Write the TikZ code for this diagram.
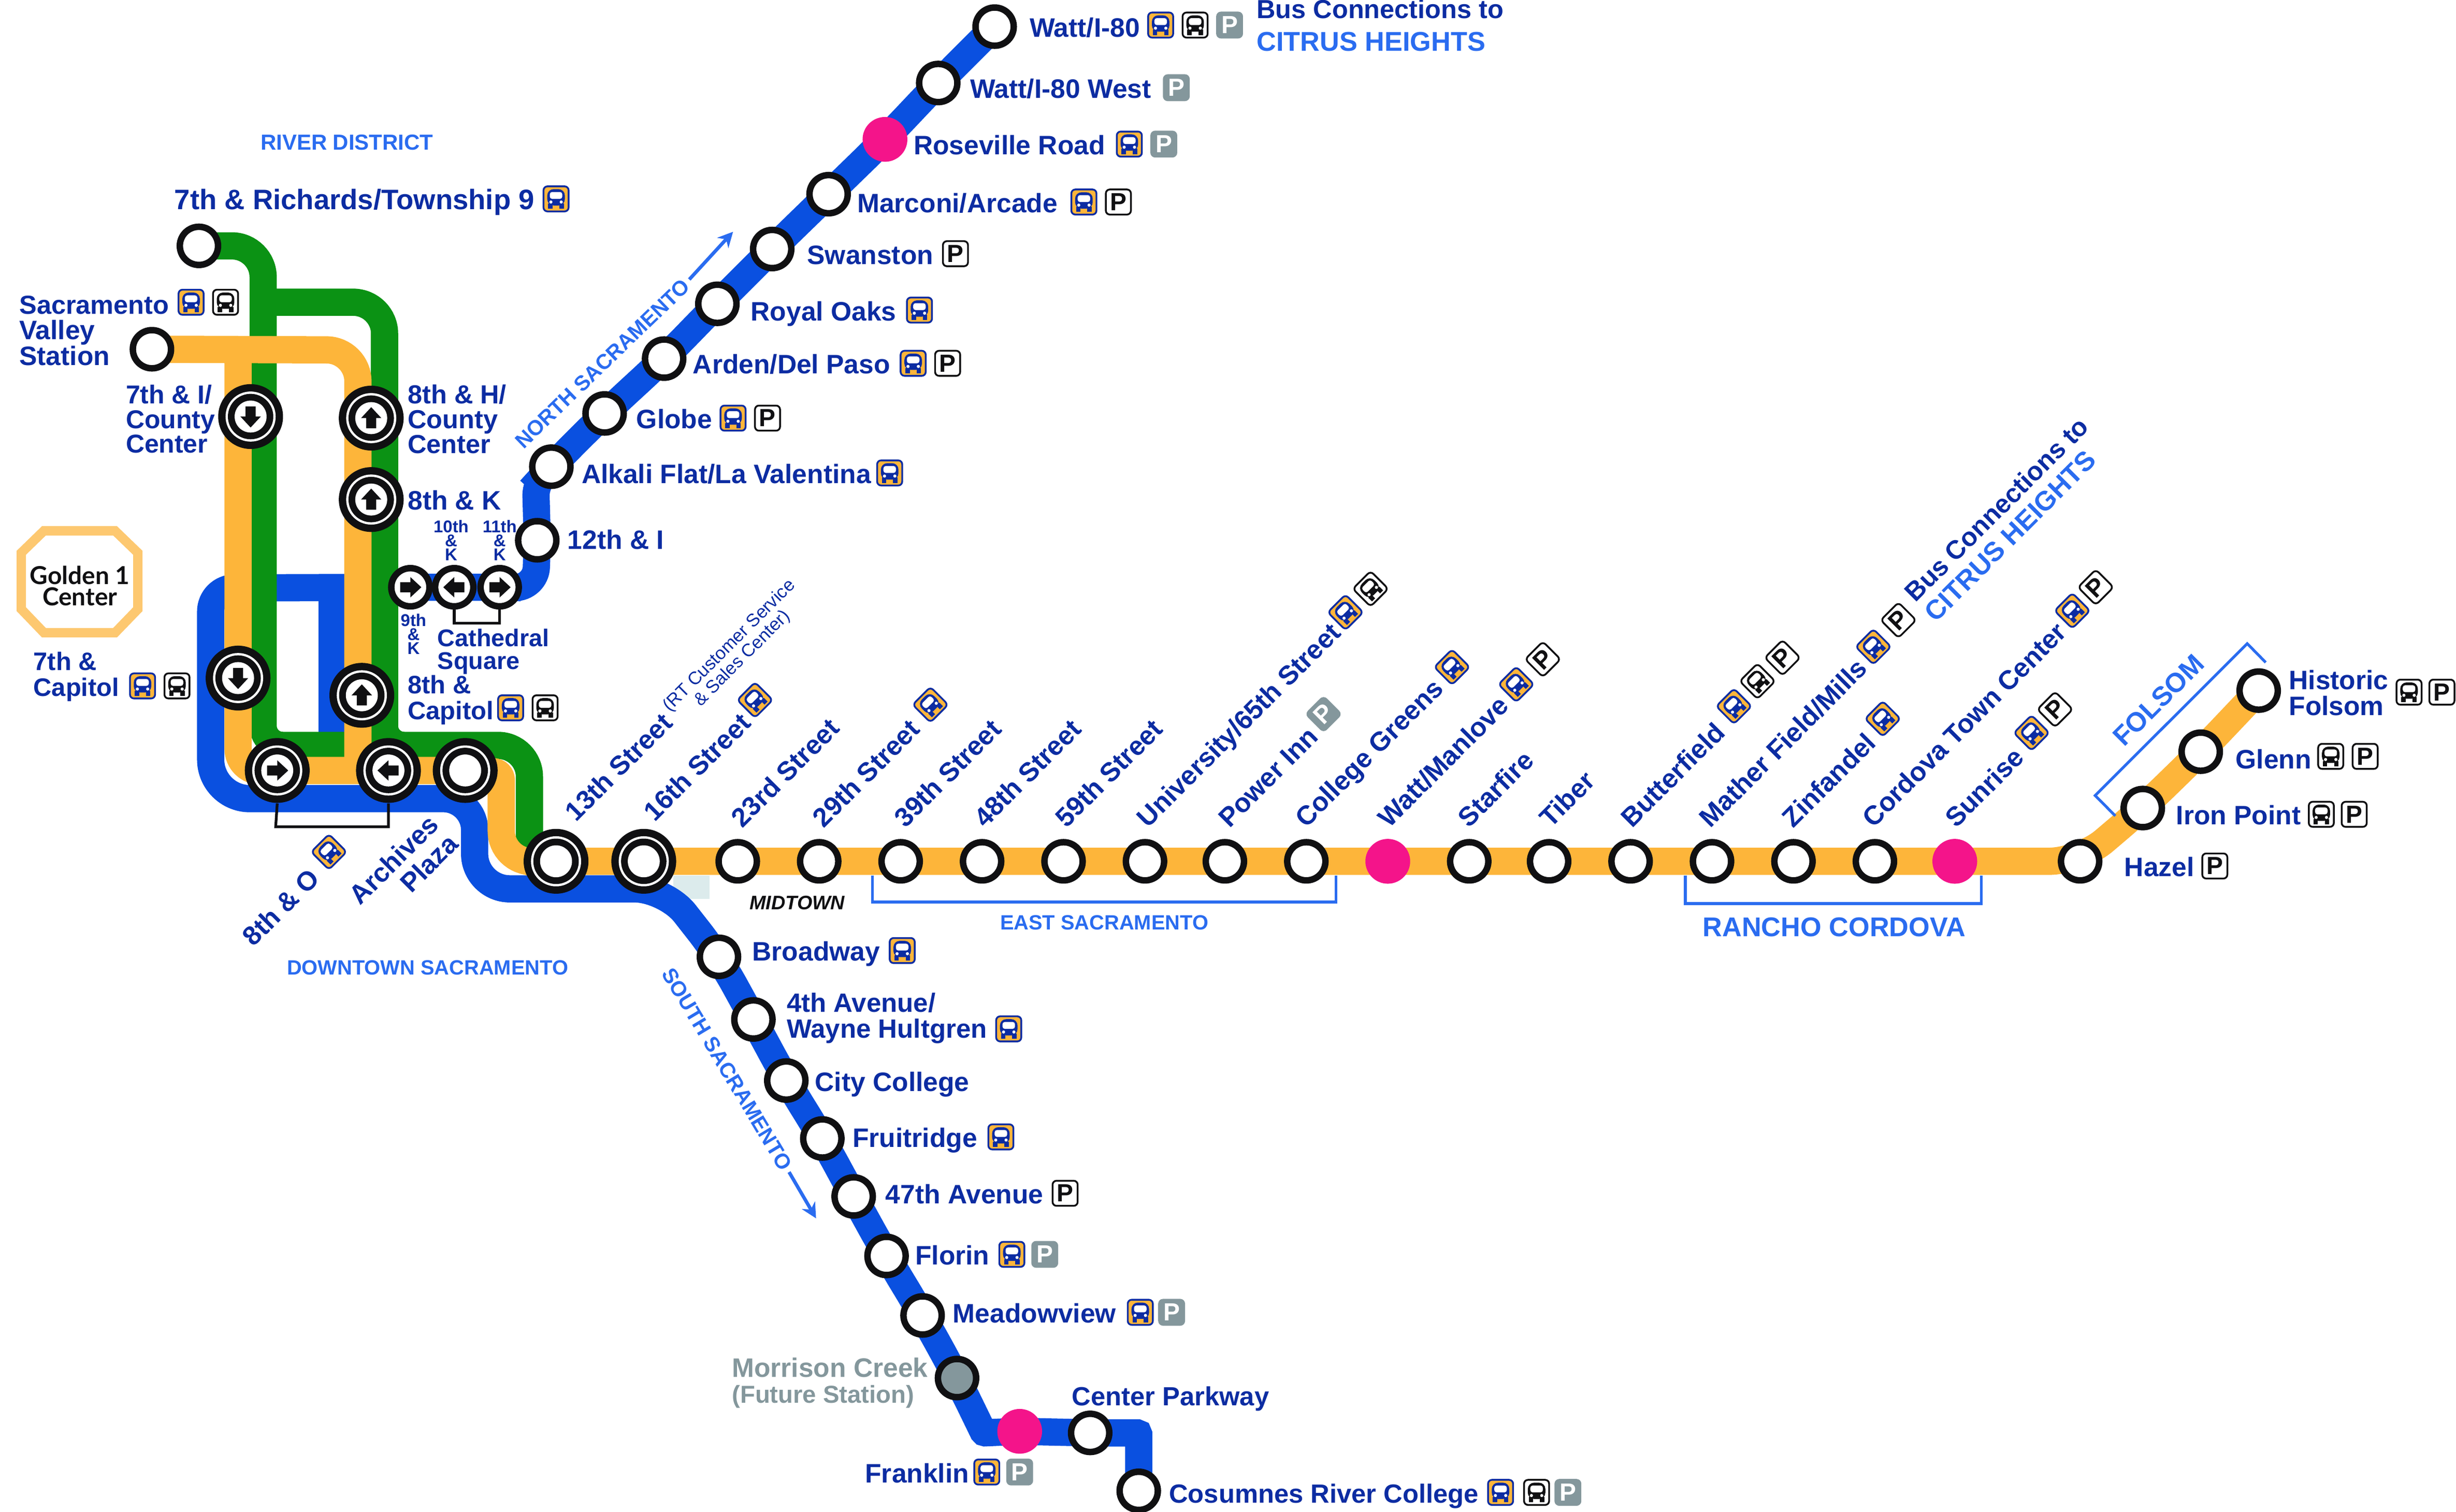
\documentclass[tikz,border=0pt]{standalone}
\usepackage{fontspec}
\setmainfont{Liberation Sans}
\newfontfamily\goldenfont{Lato}
\usetikzlibrary{backgrounds,arrows.meta}

\definecolor{rnavy}{HTML}{0C2CA2}
\definecolor{rsky}{HTML}{2A6CF0}
\definecolor{rblue}{HTML}{0A50E0}
\definecolor{rgreen}{HTML}{0B9214}
\definecolor{rorange}{HTML}{FDB53A}
\definecolor{rpink}{HTML}{F4148A}
\definecolor{rgray}{HTML}{84979C}
\definecolor{rblack}{HTML}{101012}
\definecolor{rpale}{HTML}{DCEBEC}
\definecolor{rgold}{HTML}{FDC870}

\newcommand{\drawbus}[2]{
	\filldraw [fill=#1, draw=#2, line width=0.65pt, rounded corners=0.05cm] (-8,-8) rectangle (8,8);
	\fill [#2, rounded corners=0.08cm] (-5.6,-6.2) rectangle (5.6,4.2);
	\fill [#2] (-5,3) rectangle (-2.2,6.4);
	\fill [#2] (2.2,3) rectangle (5,6.4);
	\fill [white, rounded corners=0.03cm] (-4,-4.4) rectangle (4,0);
	\fill [white] (-3.3,2) circle (1);
	\fill [white] (3.3,2) circle (1);
}
\newcommand{\drawpark}[3]{
	\filldraw [fill=#1, draw=#2, line width=0.65pt, rounded corners=0.05cm] (-8,-8) rectangle (8,8);
	\node [transform shape, inner sep=0pt, text=#3, font=\bfseries\fontsize{9}{9}\selectfont] (parkletter) at(0,0) {P};
}
\tikzset{
	busorange/.pic={\drawbus{rorange}{rnavy}},
	busblack/.pic={\drawbus{white}{rblack}},
	parkblack/.pic={\drawpark{white}{rblack}{rblack}},
	parkgray/.pic={\drawpark{rgray}{rgray}{white}},
	stoparrow/.pic={\fill [rblack] (-6.5,-3.2)--(0,-3.2)--(0,-6.5)--(7,0)--(0,6.5)--(0,3.2)--(-6.5,3.2)--cycle;},
	stop/.style={circle, draw=rblack, fill=white, line width=2.35pt, minimum size=0.488cm, inner sep=0pt},
	pinkstop/.style={circle, fill=rpink, minimum size=0.572cm, inner sep=0pt},
	graystop/.style={stop, fill=rgray},
	bigstop/.style={circle, fill=rblack, minimum size=0.828cm, inner sep=0pt,
		path picture={
			\fill [white] (path picture bounding box.center) circle (16);
			\fill [rblack] (path picture bounding box.center) circle (14.5);
			\fill [white] (path picture bounding box.center) circle (10.2);
		}},
	lb/.style={anchor=mid west, yshift=-0.6pt, inner sep=0pt, text=rnavy, align=left, font=\bfseries\fontsize{9.7}{9.4}\selectfont},
	lbm/.style={lb, anchor=west},
	rot/.style={lb, xshift=1.4pt, rotate=45},
	area/.style={inner sep=0pt, text=rsky, font=\bfseries\fontsize{7.5}{9}\selectfont},
	arealarge/.style={inner sep=0pt, text=rsky, font=\bfseries\fontsize{9.84}{9.4}\selectfont},
	tiny/.style={inner sep=0pt, text=rnavy, align=center, font=\bfseries\fontsize{6.2}{5.1}\selectfont},
	bluerail/.style={draw=rblue, line width=9.9pt, rounded corners=0.4cm},
	greenrail/.style={draw=rgreen, line width=9.9pt, rounded corners=0.4cm},
	orangerail/.style={draw=rorange, line width=9.9pt, rounded corners=0.4cm},
	bracket/.style={draw=rblack, line width=1pt},
	areabracket/.style={draw=rsky, line width=1pt},
	areaarrow/.style={draw=rsky, line width=1.25pt, shorten <=0.05cm, -{Stealth[length=5.5pt,width=5.5pt]}}
}

\begin{document}
\begin{tikzpicture}[x=0.02cm, y=-0.02cm]
	\useasboundingbox (0,-1) rectangle (1568,964.5);

	\node [stop] (stWatt) at(635,16) {};
	\node [stop] (stWattWest) at(599,52) {};
	\node [pinkstop] (stRoseville) at(565,88) {};
	\node [stop] (stMarconi) at(529,123) {};
	\node [stop] (stSwanston) at(493,158) {};
	\node [stop] (stRoyal) at(458,193) {};
	\node [stop] (stArden) at(424,228) {};
	\node [stop] (stGlobe) at(386,263) {};
	\node [stop] (stAlkali) at(352,297) {};
	\node [stop] (stTwelfth) at(343,344) {};
	\node [stop] (stEleventh) at(319,374) {};
	\node [stop] (stTenth) at(290,374) {};
	\node [stop] (stNinth) at(262,374) {};
	\node [stop] (stRichards) at(127,156) {};
	\node [stop] (stValley) at(97,222) {};
	\node [bigstop] (stSevenI) at(160,265) {};
	\node [bigstop] (stEightH) at(237,266) {};
	\node [bigstop] (stEightK) at(237,318) {};
	\node [bigstop] (stSevenCap) at(152,432) {};
	\node [bigstop] (stEightCap) at(231,443) {};
	\node [bigstop] (stEightO) at(177,491) {};
	\node [bigstop] (stArchives) at(248,491) {};
	\node [bigstop] (stPlaza) at(297,491) {};
	\node [bigstop] (stThirteen) at(355,549) {};
	\node [bigstop] (stSixteen) at(411,549) {};
	\node [stop] (stTwentyThree) at(471,549) {};
	\node [stop] (stTwentyNine) at(523,549) {};
	\node [stop] (stThirtyNine) at(575,549) {};
	\node [stop] (stFortyEight) at(627,549) {};
	\node [stop] (stFiftyNine) at(679,549) {};
	\node [stop] (stUniversity) at(731,549) {};
	\node [stop] (stPowerInn) at(782,549) {};
	\node [stop] (stCollege) at(834,549) {};
	\node [pinkstop] (stManlove) at(886,549) {};
	\node [stop] (stStarfire) at(938,549) {};
	\node [stop] (stTiber) at(989,549) {};
	\node [stop] (stButterfield) at(1041,549) {};
	\node [stop] (stMather) at(1093,549) {};
	\node [stop] (stZinfandel) at(1145,549) {};
	\node [stop] (stCordova) at(1197,549) {};
	\node [pinkstop] (stSunrise) at(1248,549) {};
	\node [stop] (stHazel) at(1328,549) {};
	\node [stop] (stIron) at(1368,515) {};
	\node [stop] (stGlenn) at(1405,479) {};
	\node [stop] (stHistoric) at(1442,440) {};
	\node [stop] (stBroadway) at(459,610) {};
	\node [stop] (stFourth) at(481,650) {};
	\node [stop] (stCityCollege) at(502,689) {};
	\node [stop] (stFruitridge) at(525,726) {};
	\node [stop] (stFortySeven) at(545,763) {};
	\node [stop] (stFlorin) at(566,801) {};
	\node [stop] (stMeadowview) at(589,839) {};
	\node [graystop] (stMorrison) at(611,879) {};
	\node [pinkstop] (stFranklin) at(651,913) {};
	\node [stop] (stCenter) at(696,914) {};
	\node [stop] (stCosumnes) at(727,951) {};

	\pic [rotate=-90] at(stSevenI) {stoparrow};
	\pic [rotate=90] at(stEightH) {stoparrow};
	\pic [rotate=90] at(stEightK) {stoparrow};
	\pic [rotate=-90] at(stSevenCap) {stoparrow};
	\pic [rotate=90] at(stEightCap) {stoparrow};
	\pic at(stEightO) {stoparrow};
	\pic [rotate=180] at(stArchives) {stoparrow};
	\pic at(stNinth) {stoparrow};
	\pic [rotate=180] at(stTenth) {stoparrow};
	\pic at(stEleventh) {stoparrow};

	\coordinate (blueA) at(342,308);
	\coordinate (blueB) at(342,374.5);
	\coordinate (blueC) at(134.5,374.5);
	\coordinate (blueD) at(134.5,509);
	\coordinate (blueE) at(303,509);
	\coordinate (blueF) at(303,566.6);
	\coordinate (blueG) at(425,566.6);
	\coordinate (blueH) at(628,914);
	\coordinate (blueI) at(727,914);
	\coordinate (blueSpurA) at(212,374.5);
	\coordinate (blueSpurB) at(212,478);
	\coordinate (greenA) at(168,156);
	\coordinate (greenB) at(168,475);
	\coordinate (greenC) at(245.5,475);
	\coordinate (greenD) at(168,192);
	\coordinate (greenE) at(245.5,192);
	\coordinate (greenF) at(338,475);
	\coordinate (greenG) at(338,549);
	\coordinate (orangeA) at(228.5,222.5);
	\coordinate (orangeB) at(228.5,492);
	\coordinate (orangeC) at(152,222.5);
	\coordinate (orangeD) at(152,492);
	\coordinate (orangeE) at(320,492);
	\coordinate (orangeF) at(320,549.5);

	\begin{scope}[on background layer]
		\fill [rpale] (430,558) rectangle (453,573);
		\draw [bluerail] (stWatt.center)--(stWattWest.center)--(stRoseville.center)--(stMarconi.center)--(stSwanston.center)--(stRoyal.center)--(stArden.center)--(stGlobe.center)--(stAlkali.center) [rounded corners=0.15cm] --(blueA) [rounded corners=0.27cm] --(stTwelfth.center)--(blueB)--(stEleventh.center)--(stTenth.center)--(stNinth.center) [rounded corners=0.3cm] --(blueC) [rounded corners=0.5cm] --(blueD) [rounded corners=0.4cm] --(blueE) [rounded corners=0.45cm] --(blueF) [rounded corners=0.4cm] --(blueG)--(stBroadway.center)--(stFourth.center)--(stCityCollege.center)--(stFruitridge.center)--(stFortySeven.center)--(stFlorin.center)--(stMeadowview.center)--(stMorrison.center) [rounded corners=0.02cm] --(blueH)--(stFranklin.center)--(stCenter.center)--(blueI)--(stCosumnes.center);
		\draw [bluerail, rounded corners=0pt] (blueSpurA)--(blueSpurB);
		\draw [greenrail] (stRichards.center)--(greenA) [rounded corners=0.25cm] --(greenB)--(greenC);
		\draw [greenrail] (greenD)--(greenE) [rounded corners=0.25cm] --(greenC) [rounded corners=0.4cm] --(greenF) [rounded corners=0.3cm] --(greenG)--(stThirteen.center);
		\draw [orangerail] (stValley.center)--(orangeA)--(orangeB);
		\draw [orangerail] (orangeC) [rounded corners=0.3cm] --(orangeD)--(stEightO.center)--(stArchives.center)--(stPlaza.center) [rounded corners=0.1cm] --(orangeE) [rounded corners=0.4cm] --(orangeF)--(stThirteen.center)--(stSixteen.center)--(stTwentyThree.center)--(stTwentyNine.center)--(stThirtyNine.center)--(stFortyEight.center)--(stFiftyNine.center)--(stUniversity.center)--(stPowerInn.center)--(stCollege.center)--(stManlove.center)--(stStarfire.center)--(stTiber.center)--(stButterfield.center)--(stMather.center)--(stZinfandel.center)--(stCordova.center)--(stSunrise.center)--(stHazel.center)--(stIron.center)--(stGlenn.center)--(stHistoric.center);
	\end{scope}

	\draw [bracket] (stEightO.south)--(176,527)--(248,527)--(stArchives.south);
	\draw [bracket] (stTenth.south)--(290,397)--(319,397)--(stEleventh.south);
	\draw [areabracket] (557,558)--(557,575)--(853,575)--(853,558);
	\draw [areabracket] (1076,558)--(1076,576)--(1265,576)--(1265,558);
	\draw [areabracket] (1350.5,520)--(1337.6,507)--(1434.7,410)--(1446.5,422);

	\draw [draw=rgold, line width=3.4pt] (28,338)--(73.5,338)--(88,352)--(88,388)--(73.5,403)--(28,403)--(13.6,388)--(13.6,352)--cycle;
	\node [inner sep=0pt, text=rblack, align=center, font=\goldenfont\bfseries\fontsize{9}{7.7}\selectfont] (lbGolden) at(51,373) {Golden 1\\Center};

	\node [lb] (lbWatt) at(657,17) {Watt/I-80};
	\pic at(741,15) {busorange};
	\pic at(763,15) {busblack};
	\pic at(785,15) {parkgray};
	\node [lb] (lbWattWest) at(619,56) {Watt/I-80 West};
	\pic at(751,55) {parkgray};
	\node [lb] (lbRoseville) at(583,92) {Roseville Road};
	\pic at(721,91) {busorange};
	\pic at(743,91) {parkgray};
	\node [lb] (lbMarconi) at(547,129) {Marconi/Arcade};
	\pic at(692,128) {busorange};
	\pic at(714,128) {parkblack};
	\node [lb] (lbSwanston) at(515,162) {Swanston};
	\pic at(610,161) {parkblack};
	\node [lb] (lbRoyal) at(479,198) {Royal Oaks};
	\pic at(587,197) {busorange};
	\node [lb] (lbArden) at(442,232) {Arden/Del Paso};
	\pic at(583,231) {busorange};
	\pic at(605,231) {parkblack};
	\node [lb] (lbGlobe) at(406,267) {Globe};
	\pic at(468,266) {busorange};
	\pic at(490,266) {parkblack};
	\node [lb] (lbAlkali) at(371,302) {Alkali Flat/La Valentina};
	\pic at(568,301) {busorange};
	\node [lb] (lbTwelfth) at(362,344) {12th \& I};
	\node [lb, font=\bfseries\fontsize{9.5}{9.4}\selectfont] (lbBusTop) at(802,5) {Bus Connections to};
	\node [lb, text=rsky, font=\bfseries\fontsize{9.84}{9.4}\selectfont] (lbCitrusTop) at(802,26) {CITRUS HEIGHTS};

	\node [area, anchor=mid west, font=\bfseries\fontsize{7.9}{9}\selectfont] (lbRiver) at(166,90) {RIVER DISTRICT};
	\node [lb, font=\bfseries\fontsize{10.25}{9.4}\selectfont] (lbRichards) at(111,127) {7th \& Richards/Township 9};
	\pic at(355,126) {busorange};
	\node [lb, font=\bfseries\fontsize{9.5}{9.4}\selectfont] (lbSacramento) at(12,194) {Sacramento};
	\pic at(122,192) {busorange};
	\pic at(144,192) {busblack};
	\node [lbm] (lbValley) at(12,217) {Valley\\Station};
	\node [lbm, font=\bfseries\fontsize{9.4}{9}\selectfont] (lbSevenI) at(80,265.5) {7th \& I/\\County\\Center};
	\node [lbm, font=\bfseries\fontsize{9.5}{9}\selectfont] (lbEightH) at(260,265.5) {8th \& H/\\County\\Center};
	\node [lb] (lbEightK) at(260,319) {8th \& K};
	\node [tiny] (lbTenth) at(288,344) {10th\\\&\\K};
	\node [tiny] (lbEleventh) at(319,344) {11th\\\&\\K};
	\node [tiny] (lbNinth) at(264,404) {9th\\\&\\K};
	\node [lbm, font=\bfseries\fontsize{8.8}{8.2}\selectfont] (lbCathedral) at(279,414) {Cathedral\\Square};
	\node [lbm, font=\bfseries\fontsize{9.2}{9.4}\selectfont] (lbSevenCap) at(21,430) {7th \&\\Capitol};
	\pic at(91,437) {busorange};
	\pic at(113,437) {busblack};
	\node [lbm, font=\bfseries\fontsize{9.2}{9.4}\selectfont] (lbEightCap) at(260,445) {8th \&\\Capitol};
	\pic at(326,451) {busorange};
	\pic at(348,451) {busblack};
	\node [rot] (lbEightO) at(156,600) {8th \& O};
	\pic [rotate=45] at(210,543) {busorange};
	\node [rot, anchor=center, align=right, font=\bfseries\fontsize{9.7}{10}\selectfont] (lbArchives) at(255,553) {Archives\\Plaza};
	\node [area] (lbDowntown) at(273,617) {DOWNTOWN SACRAMENTO};

	\node [rot] (lbThirteen) at(362,520) {13th Street};
	\node [rot, anchor=center, align=center, font=\fontsize{6.55}{6.6}\selectfont] (lbCustomer) at(467.5,414.5) {(RT Customer Service\\\& Sales Center)};
	\node [rot] (lbSixteen) at(412,520) {16th Street};
	\pic [rotate=45] at(482,446) {busorange};
	\node [rot] (lbTwentyThree) at(468,524) {23rd Street};
	\node [rot] (lbTwentyNine) at(520,524) {29th Street};
	\pic [rotate=45] at(594,449) {busorange};
	\node [rot] (lbThirtyNine) at(572,524) {39th Street};
	\node [rot] (lbFortyEight) at(623,524) {48th Street};
	\node [rot] (lbFiftyNine) at(675,524) {59th Street};
	\node [rot] (lbUniversity) at(727,524) {University/65th Street};
	\pic [rotate=45] at(859,390) {busorange};
	\pic [rotate=45] at(875,375) {busblack};
	\node [rot] (lbPowerInn) at(779,524) {Power Inn};
	\pic [rotate=45] at(845,455) {parkgray};
	\node [rot] (lbCollege) at(828,524) {College Greens};
	\pic [rotate=45] at(927,425) {busorange};
	\node [rot] (lbManlove) at(881,524) {Watt/Manlove};
	\pic [rotate=45] at(968,436) {busorange};
	\pic [rotate=45] at(985,420) {parkblack};
	\node [rot] (lbStarfire) at(932,524) {Starfire};
	\node [rot] (lbTiber) at(984,524) {Tiber};
	\node [rot] (lbButterfield) at(1036,524) {Butterfield};
	\pic [rotate=45] at(1107,450) {busorange};
	\pic [rotate=45] at(1122,434) {busblack};
	\pic [rotate=45] at(1138,419) {parkblack};
	\node [rot] (lbMather) at(1086,524) {Mather Field/Mills};
	\pic [rotate=45] at(1196,412) {busorange};
	\pic [rotate=45] at(1212,395) {parkblack};
	\node [rot, font=\bfseries\fontsize{9.5}{9.4}\selectfont] (lbBusSide) at(1217,380) {Bus Connections to};
	\node [rot, text=rsky, font=\bfseries\fontsize{9.84}{9.4}\selectfont] (lbCitrusSide) at(1230,393) {CITRUS HEIGHTS};
	\node [rot] (lbZinfandel) at(1139,524) {Zinfandel};
	\pic [rotate=45] at(1202,458) {busorange};
	\node [rot] (lbCordova) at(1190,524) {Cordova Town Center};
	\pic [rotate=45] at(1323,389) {busorange};
	\pic [rotate=45] at(1338,374) {parkblack};
	\node [rot] (lbSunrise) at(1243,524) {Sunrise};
	\pic [rotate=45] at(1297,467) {busorange};
	\pic [rotate=45] at(1312,452) {parkblack};

	\node [inner sep=0pt, text=rblack, font=\bfseries\itshape\fontsize{7.1}{9}\selectfont] (lbMidtown) at(509,575.5) {MIDTOWN};
	\node [area] (lbEast) at(705,588) {EAST SACRAMENTO};
	\node [arealarge] (lbRancho) at(1171,591) {RANCHO CORDOVA};
	\node [arealarge, rotate=45] (lbFolsom) at(1378,446) {FOLSOM};

	\node [lb] (lbHazel) at(1356,553) {Hazel};
	\pic at(1414,552) {parkblack};
	\node [lb] (lbIron) at(1389,520) {Iron Point};
	\pic at(1482,519) {busblack};
	\pic at(1503,519) {parkblack};
	\node [lb] (lbGlenn) at(1427,484) {Glenn};
	\pic at(1488,482) {busblack};
	\pic at(1510,482) {parkblack};
	\node [lbm] (lbHistoric) at(1461,440.5) {Historic\\Folsom};
	\pic at(1538,441) {busblack};
	\pic at(1559,441) {parkblack};

	\node [lb] (lbBroadway) at(480,607) {Broadway};
	\pic at(576,606) {busorange};
	\node [lbm, font=\bfseries\fontsize{9.6}{9.4}\selectfont] (lbFourth) at(502,648) {4th Avenue/\\Wayne Hultgren};
	\pic at(644,656) {busorange};
	\node [lb] (lbCityCollege) at(520,690) {City College};
	\node [lb] (lbFruitridge) at(544,726) {Fruitridge};
	\pic at(639,725) {busorange};
	\node [lb] (lbFortySeven) at(565,762) {47th Avenue};
	\pic at(680,761) {parkblack};
	\node [lb] (lbFlorin) at(584,801) {Florin};
	\pic at(646,800) {busorange};
	\pic at(667,800) {parkgray};
	\node [lb] (lbMeadowview) at(608,838) {Meadowview};
	\pic at(728,837) {busorange};
	\pic at(748,837) {parkgray};
	\node [lbm, text=rgray] (lbMorrison) at(467,881) {Morrison Creek\\\fontsize{8.9}{9.4}\selectfont(Future Station)};
	\node [lb, font=\bfseries\fontsize{9.55}{9.4}\selectfont] (lbCenter) at(684,891) {Center Parkway};
	\node [lb] (lbFranklin) at(552,940) {Franklin};
	\pic at(630,939) {busorange};
	\pic at(651,939) {parkgray};
	\node [lb, font=\bfseries\fontsize{9.55}{9.4}\selectfont] (lbCosumnes) at(746,953) {Cosumnes River College};
	\pic at(958,952) {busorange};
	\pic at(981,952) {busblack};
	\pic at(1001,952) {parkgray};

	\node [area, anchor=mid west, rotate=44, font=\bfseries\fontsize{7.7}{9}\selectfont] (lbNorth) at(331,283) {NORTH SACRAMENTO};
	\coordinate (northTip) at(468,147);
	\draw [areaarrow] (lbNorth.east)--(northTip);
	\node [area, anchor=mid west, rotate=-59, font=\bfseries\fontsize{7.7}{9}\selectfont] (lbSouth) at(426,618) {SOUTH SACRAMENTO};
	\coordinate (southTip) at(521,777);
	\draw [areaarrow] (lbSouth.east)--(southTip);
\end{tikzpicture}
\end{document}
